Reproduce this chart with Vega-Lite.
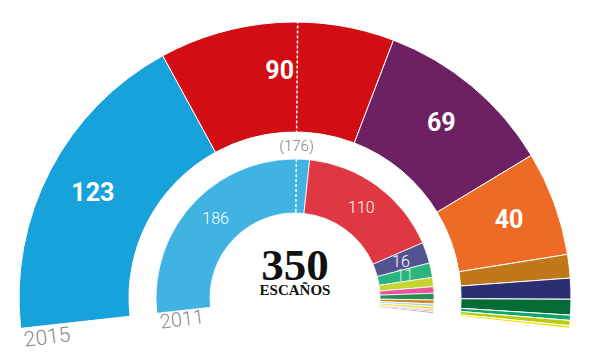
{
  "$schema": "https://vega.github.io/schema/vega-lite/v6.json",
  "width": 590,
  "height": 100,
  "autosize": "none",
  "padding": {"left": 0, "right": 10, "top": 248, "bottom": 9},
  "background": "white",
  "config": {"view": {"stroke": null}},
  "datasets": {
    "e2015": [
      {"party": "PP", "seats": 123, "ord": 1},
      {"party": "PSOE", "seats": 90, "ord": 2},
      {"party": "Podemos", "seats": 69, "ord": 3},
      {"party": "Ciudadanos", "seats": 40, "ord": 4},
      {"party": "ERC", "seats": 9, "ord": 5},
      {"party": "DL", "seats": 8, "ord": 6},
      {"party": "PNV", "seats": 6, "ord": 7},
      {"party": "IU-UP", "seats": 2, "ord": 8},
      {"party": "EH Bildu", "seats": 2, "ord": 9},
      {"party": "CC", "seats": 1, "ord": 10}
    ],
    "e2011": [
      {"party": "PP", "seats": 186, "ord": 1},
      {"party": "PSOE", "seats": 110, "ord": 2},
      {"party": "CiU", "seats": 16, "ord": 3},
      {"party": "IU", "seats": 11, "ord": 4},
      {"party": "Amaiur", "seats": 7, "ord": 5},
      {"party": "UPyD", "seats": 5, "ord": 6},
      {"party": "PNV", "seats": 5, "ord": 7},
      {"party": "ERC", "seats": 3, "ord": 8},
      {"party": "BNG", "seats": 2, "ord": 9},
      {"party": "CC", "seats": 2, "ord": 10},
      {"party": "Compromís", "seats": 1, "ord": 11},
      {"party": "FAC", "seats": 1, "ord": 12},
      {"party": "GBAI", "seats": 1, "ord": 13}
    ],
    "majority": [{"maj": 176, "label": "(176)"}]
  },
  "layer": [
    {
      "data": {"name": "e2015"},
      "mark": {"type": "arc", "outerRadius": 276, "innerRadius": 166, "stroke": "#ffffff", "strokeWidth": 1},
      "encoding": {
        "theta": {"field": "seats", "type": "quantitative", "stack": true, "scale": {"domain": [0, 350], "range": [-1.681, 1.681]}},
        "order": {"field": "ord", "type": "quantitative"},
        "color": {
          "field": "party", "type": "nominal", "legend": null,
          "scale": {
            "domain": ["PP", "PSOE", "Podemos", "Ciudadanos", "ERC", "DL", "PNV", "IU-UP", "EH Bildu", "CC"],
            "range": ["#17a2dc", "#d20d13", "#6d2163", "#ee6b25", "#c1781a", "#2b2f72", "#036b35", "#10a56e", "#b6cb12", "#f4df00"]
          }
        }
      }
    },
    {
      "data": {"name": "e2011"},
      "mark": {"type": "arc", "outerRadius": 139, "innerRadius": 85, "stroke": "#ffffff", "strokeWidth": 0.8},
      "encoding": {
        "theta": {"field": "seats", "type": "quantitative", "stack": true},
        "order": {"field": "ord", "type": "quantitative"},
        "color": {
          "field": "party", "type": "nominal", "legend": null,
          "scale": {
            "domain": ["PP", "PSOE", "CiU", "IU", "Amaiur", "UPyD", "PNV", "ERC", "BNG", "CC", "Compromís", "FAC", "GBAI"],
            "range": ["#40b3e3", "#e03842", "#545391", "#2cb47e", "#c6d430", "#e6559b", "#2d8a52", "#d08a27", "#9fd6ef", "#f5dd1b", "#f28c4a", "#e4505e", "#6473b3"]
          }
        }
      }
    },
    {
      "data": {"name": "e2015"},
      "mark": {"type": "text", "radius": 228, "fontSize": 25, "fontWeight": "bold", "font": "Liberation Sans Narrow, Roboto, sans-serif", "color": "#ffffff", "align": "center", "baseline": "middle"},
      "encoding": {
        "theta": {"field": "seats", "type": "quantitative", "stack": true},
        "order": {"field": "ord", "type": "quantitative"},
        "text": {"condition": {"test": "datum.seats >= 40", "field": "seats", "type": "quantitative"}, "value": ""}
      }
    },
    {
      "data": {"name": "e2011"},
      "mark": {"type": "text", "radius": 112, "fontSize": 16, "fontWeight": 300, "font": "Roboto, sans-serif", "align": "center", "baseline": "middle"},
      "encoding": {
        "theta": {"field": "seats", "type": "quantitative", "stack": true},
        "order": {"field": "ord", "type": "quantitative"},
        "color": {"condition": {"test": "datum.seats == 11", "value": "#d4f2de"}, "value": "#ffffff"},
        "text": {"condition": {"test": "datum.seats >= 11", "field": "seats", "type": "quantitative"}, "value": ""}
      }
    },
    {
      "data": {"name": "majority"},
      "mark": {"type": "arc", "outerRadius": 276, "innerRadius": 166, "filled": false, "stroke": "#ffffff", "strokeWidth": 1.5, "strokeDash": [3, 2], "strokeDashOffset": 1.5},
      "encoding": {
        "theta": {"field": "maj", "type": "quantitative", "stack": null},
        "theta2": {"field": "maj"}
      }
    },
    {
      "data": {"name": "majority"},
      "mark": {"type": "arc", "outerRadius": 139, "innerRadius": 85, "filled": false, "stroke": "#ffffff", "strokeWidth": 1.5, "strokeDash": [3, 2]},
      "encoding": {
        "theta": {"field": "maj", "type": "quantitative", "stack": null},
        "theta2": {"field": "maj"}
      }
    },
    {
      "data": {"name": "majority"},
      "mark": {"type": "text", "radius": 152, "fontSize": 15, "fontWeight": 300, "font": "Roboto, sans-serif", "color": "#7f7f7f", "align": "center", "baseline": "middle"},
      "encoding": {
        "theta": {"field": "maj", "type": "quantitative", "stack": null},
        "text": {"field": "label"}
      }
    },
    {
      "data": {"values": [{"year": "2015"}]},
      "mark": {"type": "text", "theta": -1.731, "radius": 251, "angle": -7, "fontSize": 21, "font": "Roboto, sans-serif", "fontWeight": 300, "color": "#8a8a8a", "align": "center", "baseline": "middle"},
      "encoding": {"text": {"field": "year"}}
    },
    {
      "data": {"values": [{"year": "2011"}]},
      "mark": {"type": "text", "theta": -1.763, "radius": 115, "angle": -7, "fontSize": 20, "font": "Roboto, sans-serif", "fontWeight": 300, "color": "#8a8a8a", "align": "center", "baseline": "middle"},
      "encoding": {"text": {"field": "year"}}
    },
    {
      "data": {"values": [{"total": "350", "unit": "ESCAÑOS"}]},
      "layer": [
        {
          "mark": {"type": "text", "dy": -18, "fontSize": 45, "fontWeight": "bold", "font": "Liberation Serif, serif", "color": "#111111", "align": "center", "baseline": "alphabetic"},
          "encoding": {"text": {"field": "total"}}
        },
        {
          "mark": {"type": "text", "dy": -3, "fontSize": 15, "fontWeight": "bold", "font": "Liberation Serif, serif", "color": "#111111", "align": "center", "baseline": "alphabetic"},
          "encoding": {"text": {"field": "unit"}}
        }
      ]
    }
  ],
  "resolve": {"scale": {"color": "independent"}}
}
